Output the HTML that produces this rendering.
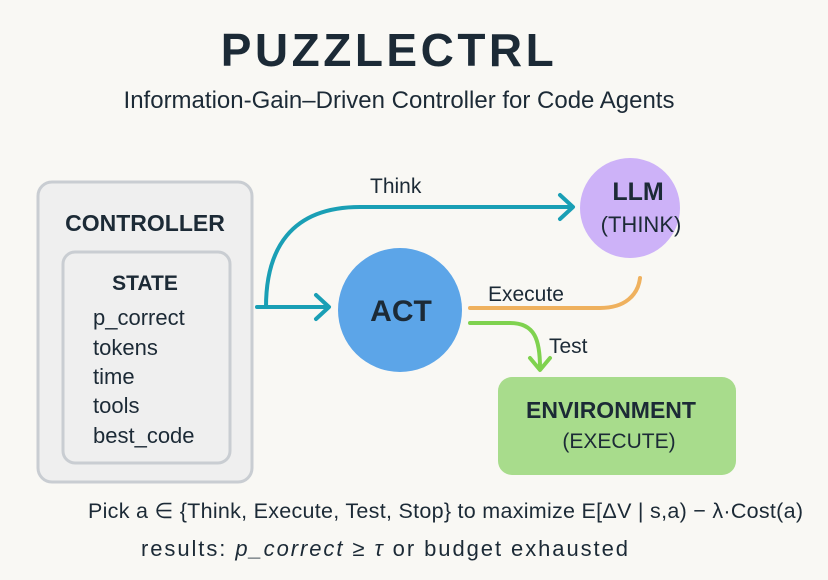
<!DOCTYPE html>
<html><head><meta charset="utf-8"><style>
html,body{margin:0;padding:0;background:#f9f8f4;}
svg{display:block;font-family:"Liberation Sans",sans-serif;}
</style></head><body>
<svg width="828" height="580" viewBox="0 0 828 580">
<rect width="828" height="580" fill="#f9f8f4"/>
<text x="389" y="66" text-anchor="middle" font-size="46" font-weight="bold" fill="#1c2a36" letter-spacing="3.5">PUZZLECTRL</text>
<text x="399" y="108" text-anchor="middle" font-size="24" fill="#1c2a36">Information-Gain–Driven Controller for Code Agents</text>

<rect x="38" y="182" width="214" height="300" rx="14" fill="#efefef" stroke="#c9cdd2" stroke-width="3"/>
<text x="145" y="231" text-anchor="middle" font-size="23" font-weight="bold" fill="#1c2a36">CONTROLLER</text>
<rect x="63" y="252" width="167" height="211" rx="12" fill="#efefef" stroke="#c9cdd2" stroke-width="3"/>
<text x="145" y="290" text-anchor="middle" font-size="21" font-weight="bold" fill="#1c2a36">STATE</text>
<g font-size="22" fill="#1c2a36">
<text x="93" y="325">p_correct</text>
<text x="93" y="355">tokens</text>
<text x="93" y="384">time</text>
<text x="93" y="413">tools</text>
<text x="93" y="443">best_code</text>
</g>

<g fill="none" stroke-linecap="round" stroke-linejoin="round" stroke-width="4">
<path d="M257 307 H328" stroke="#1a9fb5"/>
<path d="M316 295 L329 307 L316 319" stroke="#1a9fb5"/>
<path d="M266 307 C266 250 290 207 360 207 H572" stroke="#1a9fb5"/>
<path d="M560 195 L573 207 L560 219" stroke="#1a9fb5"/>
<path d="M470 308 H600 C625 308 638 295 640 278" stroke="#efb15e"/>
<path d="M470 323 H510 C535 323 540 340 540 368" stroke="#7fd24f"/>
<path d="M530 358 L540 370 L550 358" stroke="#7fd24f"/>
</g>

<circle cx="630" cy="208" r="50" fill="#cdb2f8"/>
<text x="638" y="200" text-anchor="middle" font-size="25" font-weight="bold" fill="#1c2a36">LLM</text>
<text x="641" y="232" text-anchor="middle" font-size="22" fill="#1c2a36">(THINK)</text>

<circle cx="400" cy="310" r="62" fill="#5ca5e8"/>
<text x="401" y="321" text-anchor="middle" font-size="30" font-weight="bold" fill="#1c2a36">ACT</text>

<rect x="498" y="377" width="238" height="98" rx="14" fill="#a8dc8c"/>
<text x="611" y="418" text-anchor="middle" font-size="23" font-weight="bold" fill="#1c2a36">ENVIRONMENT</text>
<text x="619" y="448" text-anchor="middle" font-size="21" fill="#1c2a36">(EXECUTE)</text>

<text x="370" y="193" font-size="21" fill="#1c2a36">Think</text>
<text x="488" y="301" font-size="21" fill="#1c2a36">Execute</text>
<text x="549" y="353" font-size="21" fill="#1c2a36">Test</text>

<text x="88" y="518" font-size="21.5" fill="#1c2a36" textLength="715">Pick a ∈ {Think, Execute, Test, Stop} to maximize E[ΔV | s,a) − λ·Cost(a)</text>
<text x="141" y="556" font-size="22" fill="#1c2a36" textLength="487">results: <tspan font-style="italic">p_correct</tspan> ≥ <tspan font-style="italic">τ</tspan>  or budget exhausted</text>
</svg>
</body></html>
